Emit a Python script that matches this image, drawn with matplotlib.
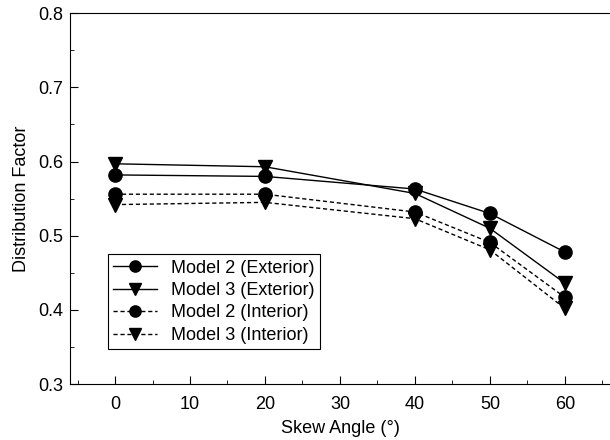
import matplotlib.pyplot as plt
from matplotlib.ticker import MultipleLocator

plt.rcParams['font.family'] = ['Liberation Sans', 'DejaVu Sans']

# Data
skew = [0, 20, 40, 50, 60]
m2_ext = [0.582, 0.580, 0.563, 0.530, 0.478]
m3_ext = [0.597, 0.593, 0.557, 0.510, 0.436]
m2_int = [0.556, 0.556, 0.532, 0.491, 0.417]
m3_int = [0.542, 0.545, 0.523, 0.481, 0.402]

fig = plt.figure(figsize=(6.1, 4.4), dpi=100)
ax = fig.add_axes([0.1148, 0.127, 0.885, 0.843])

ms = 9.5
ax.plot(skew, m2_ext, 'k-o', lw=1, ms=ms, label='Model 2 (Exterior)')
ax.plot(skew, m3_ext, 'k-v', lw=1, ms=ms, label='Model 3 (Exterior)')
ax.plot(skew, m2_int, 'k--o', lw=1, ms=ms, dashes=(3, 2), label='Model 2 (Interior)')
ax.plot(skew, m3_int, 'k--v', lw=1, ms=ms, dashes=(3, 2), label='Model 3 (Interior)')

ax.set_xlim(-6, 66)
ax.set_ylim(0.3, 0.8)
ax.xaxis.set_major_locator(MultipleLocator(10))
ax.xaxis.set_minor_locator(MultipleLocator(5))
ax.yaxis.set_major_locator(MultipleLocator(0.1))
ax.yaxis.set_minor_locator(MultipleLocator(0.05))
ax.tick_params(which='both', direction='in', top=False, right=False, labelsize=13)
ax.tick_params(which='major', length=6)
ax.tick_params(axis='x', which='major', pad=8.5)
ax.tick_params(axis='y', which='major', pad=5)
ax.tick_params(which='minor', length=3)
ax.spines['right'].set_visible(False)

ax.set_xlabel('Skew Angle (°)', fontsize=13, labelpad=5)
ax.set_ylabel('Distribution Factor', fontsize=13, labelpad=6)

leg = ax.legend(loc='lower left', bbox_to_anchor=(0.07, 0.094), fontsize=13,
                fancybox=False, framealpha=1, edgecolor='black',
                handlelength=2.4, borderpad=0.3, labelspacing=0.3,
                handletextpad=0.8, borderaxespad=0, markerscale=0.85)
leg.get_frame().set_linewidth(0.8)

plt.savefig('out.png', dpi=100)
